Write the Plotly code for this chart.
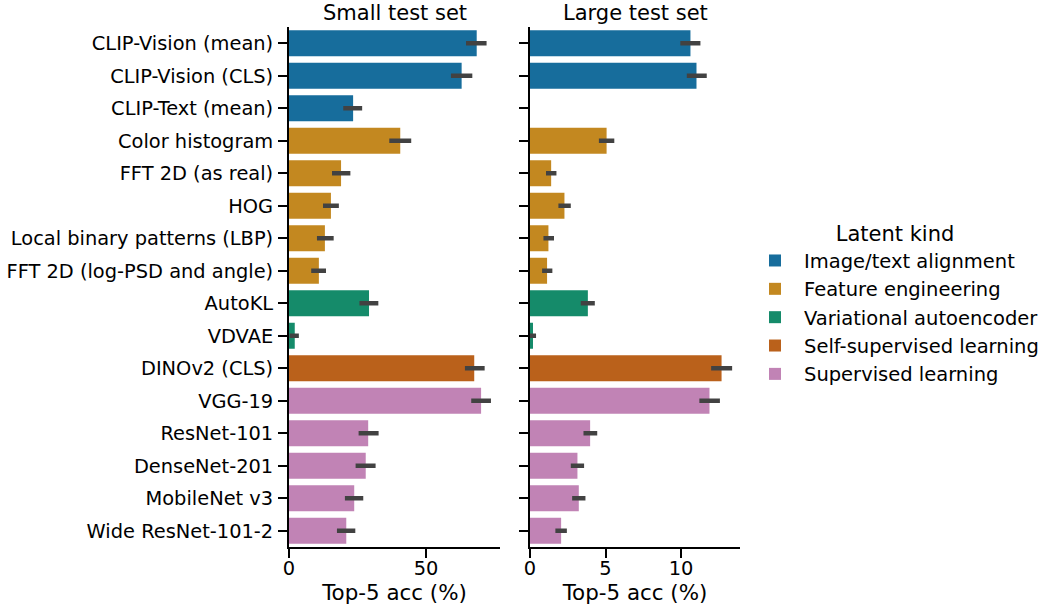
import plotly.graph_objects as go

categories = [
    "CLIP-Vision (mean)", "CLIP-Vision (CLS)", "CLIP-Text (mean)",
    "Color histogram", "FFT 2D (as real)", "HOG",
    "Local binary patterns (LBP)", "FFT 2D (log-PSD and angle)",
    "AutoKL", "VDVAE", "DINOv2 (CLS)", "VGG-19",
    "ResNet-101", "DenseNet-201", "MobileNet v3", "Wide ResNet-101-2",
]
kinds = [
    "Image/text alignment", "Image/text alignment", "Image/text alignment",
    "Feature engineering", "Feature engineering", "Feature engineering",
    "Feature engineering", "Feature engineering",
    "Variational autoencoder", "Variational autoencoder",
    "Self-supervised learning",
    "Supervised learning", "Supervised learning", "Supervised learning",
    "Supervised learning", "Supervised learning",
]
kind_order = ["Image/text alignment", "Feature engineering", "Variational autoencoder",
              "Self-supervised learning", "Supervised learning"]
kind_colors = ["#176d9c", "#c38820", "#158b6a", "#ba611b", "#c183b5"]

# Small test set: mean, lower CI, upper CI
small_mean = [68.5, 63.0, 23.4, 40.6, 19.0, 15.3, 13.1, 10.9, 29.2, 2.1, 67.6, 70.1, 28.9, 28.0, 23.8, 20.9]
small_lo = [64.6, 59.1, 19.8, 36.6, 15.7, 12.4, 10.2, 8.1, 25.7, 0.2, 64.2, 66.5, 25.4, 24.3, 20.4, 17.5]
small_hi = [72.1, 66.9, 26.7, 44.6, 22.4, 18.2, 16.3, 13.5, 32.6, 3.6, 71.4, 73.7, 32.7, 31.6, 27.1, 24.2]

# Large test set: mean, lower CI, upper CI (CLIP-Text not evaluated)
large_mean = [10.62, 11.02, None, 5.07, 1.40, 2.28, 1.22, 1.13, 3.83, 0.20, 12.68, 11.88, 3.98, 3.14, 3.23, 2.06]
large_lo = [9.95, 10.38, None, 4.56, 1.06, 1.88, 0.89, 0.80, 3.36, 0.00, 11.99, 11.21, 3.54, 2.70, 2.79, 1.68]
large_hi = [11.28, 11.70, None, 5.58, 1.75, 2.70, 1.59, 1.48, 4.29, 0.40, 13.38, 12.57, 4.45, 3.58, 3.67, 2.44]

FONT = "DejaVu Sans"
W, H = 1040, 606

fig = go.Figure()

def add_panel(means, los, his, xa, ya, legend):
    for k, col in zip(kind_order, kind_colors):
        idx = [i for i, kk in enumerate(kinds) if kk == k]
        ys = [categories[i] for i in idx]
        xs = [means[i] for i in idx]
        plus = [(his[i] - means[i]) if means[i] is not None else None for i in idx]
        minus = [(means[i] - los[i]) if means[i] is not None else None for i in idx]
        fig.add_trace(go.Bar(
            x=xs, y=ys, orientation="h", name=k, legendgroup=k,
            showlegend=legend, width=0.8,
            marker=dict(color=col, line=dict(width=0)),
            error_x=dict(type="data", array=plus, arrayminus=minus,
                         symmetric=False, color="#424242", thickness=4.5, width=0),
            xaxis=xa, yaxis=ya,
        ))

add_panel(small_mean, small_lo, small_hi, "x", "y", True)
add_panel(large_mean, large_lo, large_hi, "x2", "y2", False)

ydom = [1 - 547 / H, 1 - 27 / H]
axis_common = dict(showline=True, linecolor="black", linewidth=1.9, ticks="outside",
                   ticklen=9, tickwidth=1.9, tickcolor="black", showgrid=False,
                   zeroline=False, automargin=False,
                   tickfont=dict(family=FONT, size=19.4, color="black"))

xtitle = dict(text="Top-5 acc (%)", font=dict(family=FONT, size=21.4), standoff=4)

fig.update_layout(
    width=W, height=H, margin=dict(l=0, r=0, t=0, b=0, autoexpand=False),
    plot_bgcolor="white", paper_bgcolor="white", barmode="overlay",
    font=dict(family=FONT, color="black"),
    xaxis=dict(domain=[289 / W, 500 / W], range=[0, 77], tickvals=[0, 50],
               anchor="y", title=xtitle, ticklabelstandoff=-6, **axis_common),
    xaxis2=dict(domain=[530 / W, 740 / W], range=[0, 13.9], tickvals=[0, 5, 10],
                anchor="y2", title=xtitle, ticklabelstandoff=-6, **axis_common),
    yaxis=dict(domain=ydom, anchor="x", type="category", categoryorder="array",
               categoryarray=categories, range=[15.5, -0.5], ticklabelstandoff=1,
               **axis_common),
    yaxis2=dict(domain=ydom, anchor="x2", type="category", categoryorder="array",
                categoryarray=categories, range=[15.5, -0.5], showticklabels=False,
                **axis_common),
    legend=dict(x=746 / W, y=1 - 214 / H, xanchor="left", yanchor="top",
                title=dict(text="Latent kind", font=dict(family=FONT, size=21), side="top center"),
                font=dict(family=FONT, size=19.5, color="black"),
                bgcolor="rgba(0,0,0,0)", itemwidth=48, traceorder="normal",
                tracegroupgap=0),
    annotations=[
        dict(text="Small test set", x=394.5 / W, y=1 - 13 / H, xref="paper", yref="paper",
             showarrow=False, xanchor="center", yanchor="middle", font=dict(family=FONT, size=21)),
        dict(text="Large test set", x=635 / W, y=1 - 13 / H, xref="paper", yref="paper",
             showarrow=False, xanchor="center", yanchor="middle", font=dict(family=FONT, size=21)),
    ],
)

fig.write_html("out.html")
